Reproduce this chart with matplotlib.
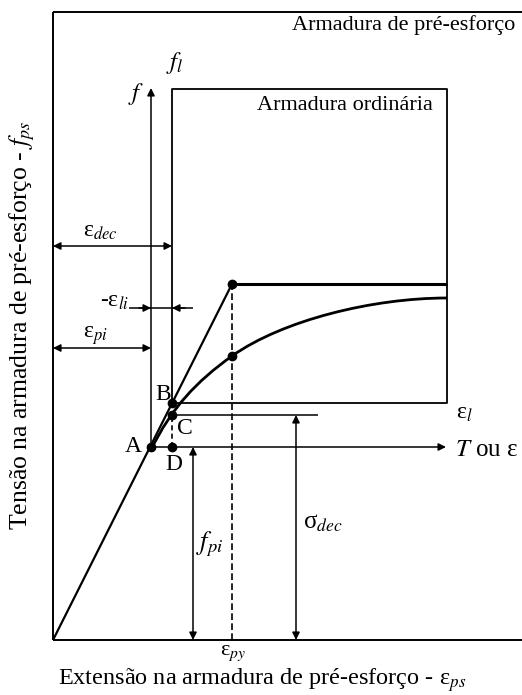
import numpy as np
import matplotlib.pyplot as plt
from matplotlib.path import Path
from matplotlib.patches import PathPatch

plt.rcParams['font.family'] = ['Liberation Serif', 'DejaVu Serif']
plt.rcParams['mathtext.fontset'] = 'stix'

# pontos caracteristicos (extensao, tensao) em unidades do desenho
eps_A, f_A = 98, 193
eps_B, f_B = 119, 237
f_C = 225
eps_py, f_py = 179, 356
f_curve_py = 284
eps_max = 394
f_frame_top = 628
f_box_top = 551

# curva real da armadura: dois troços de Bezier cúbica (pontos de controlo)
curve_ctrl_eps = [98, 118, 144, 179, 230, 320, 394]
curve_ctrl_f = [190, 232, 259, 284, 320, 342, 342]

fig = plt.figure(figsize=(5.22, 6.95), dpi=100)
ax = fig.add_axes([0, 0, 1, 1])
ax.set_xlim(-53, 469)
ax.set_ylim(-55, 640)
ax.axis('off')

k = dict(color='black', solid_capstyle='butt')

# moldura exterior
ax.plot([0, 0], [0, f_frame_top], lw=1.4, **k)
ax.plot([0, 480], [f_frame_top, f_frame_top], lw=1.4, **k)
ax.plot([0, 480], [0, 0], lw=1.4, **k)

# caixa da armadura ordinaria
ax.plot([eps_B, eps_B, eps_max, eps_max, eps_B],
        [f_B, f_box_top, f_box_top, f_B, f_B], lw=1.3, **k)

# lei bilinear e curva
ax.plot([0, eps_py], [0, f_py], lw=1.6, **k)
ax.plot([eps_py, eps_max], [f_py, f_py], lw=2.2, **k)
verts = list(zip(curve_ctrl_eps, curve_ctrl_f))
codes = [Path.MOVETO] + [Path.CURVE4] * (len(verts) - 1)
ax.add_patch(PathPatch(Path(verts, codes), fill=False, lw=2.0, edgecolor='black'))

# tracejados
ax.plot([eps_py, eps_py], [0, f_py], lw=1.2, ls=(0, (4, 2)), color='black')
ax.plot([eps_B, eps_B], [f_A, f_C], lw=1.2, ls=(0, (3, 2)), color='black')

# linha C
ax.plot([eps_B, 265], [f_C, f_C], lw=1.1, **k)

ap = dict(arrowstyle='-|>', color='black', lw=1.1, mutation_scale=11, shrinkA=0, shrinkB=0)
apd = dict(arrowstyle='<|-|>', color='black', lw=1.1, mutation_scale=11, shrinkA=0, shrinkB=0)

# eixo f e eixo T
ax.annotate('', xy=(eps_A, 552), xytext=(eps_A, f_A), arrowprops=ap)
ax.annotate('', xy=(393, f_A), xytext=(eps_A, f_A), arrowprops=ap)

# cotas horizontais
ax.annotate('', xy=(0, 394), xytext=(eps_B, 394), arrowprops=apd)
ax.annotate('', xy=(0, 292), xytext=(eps_A, 292), arrowprops=apd)
ax.plot([76, 140], [332, 332], lw=1.1, **k)
ax.annotate('', xy=(eps_A, 332), xytext=(86, 332), arrowprops=ap)
ax.annotate('', xy=(eps_B, 332), xytext=(132, 332), arrowprops=ap)

# cotas verticais
ax.annotate('', xy=(140, 0), xytext=(140, f_A), arrowprops=apd)
ax.annotate('', xy=(243, 0), xytext=(243, f_C), arrowprops=apd)

# pontos
pts_x = [eps_A, eps_B, eps_B, eps_B, eps_py, eps_py]
pts_y = [f_A, f_B, f_C, f_A, f_py, f_curve_py]
ax.plot(pts_x, pts_y, 'o', color='black', ms=6, zorder=5)

ax.text(462, 615, 'Armadura de pré-esforço', fontsize=16, ha='right', va='center')
ax.text(292, 535, 'Armadura ordinária', fontsize=16, ha='center', va='center')
ax.text(122, 577, r'$f_l$', fontsize=18, ha='center', va='center')
ax.text(83, 546, r'$f$', fontsize=18, ha='center', va='center')
ax.text(47, 408, 'ε$_{dec}$', fontsize=17, ha='center', va='center')
ax.text(76, 338, '-ε$_{li}$', fontsize=17, ha='right', va='center')
ax.text(42, 304, 'ε$_{pi}$', fontsize=17, ha='center', va='center')
ax.text(110, 246, 'B', fontsize=17, ha='center', va='center')
ax.text(132, 211, 'C', fontsize=17, ha='center', va='center')
ax.text(80, 194, 'A', fontsize=17, ha='center', va='center')
ax.text(121, 176, 'D', fontsize=17, ha='center', va='center')
ax.text(403, 226, 'ε$_l$', fontsize=17, ha='left', va='center')
ax.text(402, 190, r'$T$ ou ε', fontsize=18, ha='left', va='center')
ax.text(157, 96, r'$f_{pi}$', fontsize=19, ha='center', va='center')
ax.text(250, 117, 'σ$_{dec}$', fontsize=18, ha='left', va='center')
ax.text(180, -13, 'ε$_{py}$', fontsize=16, ha='center', va='center')
ax.text(209, -40, 'Extensão na armadura de pré-esforço - ε$_{ps}$', fontsize=17.5,
        ha='center', va='center')
ax.text(-31, 315, r'Tensão na armadura de pré-esforço - $f_{ps}$', fontsize=18.5,
        ha='center', va='center', rotation=90)

fig.savefig('out.png', dpi=100)
